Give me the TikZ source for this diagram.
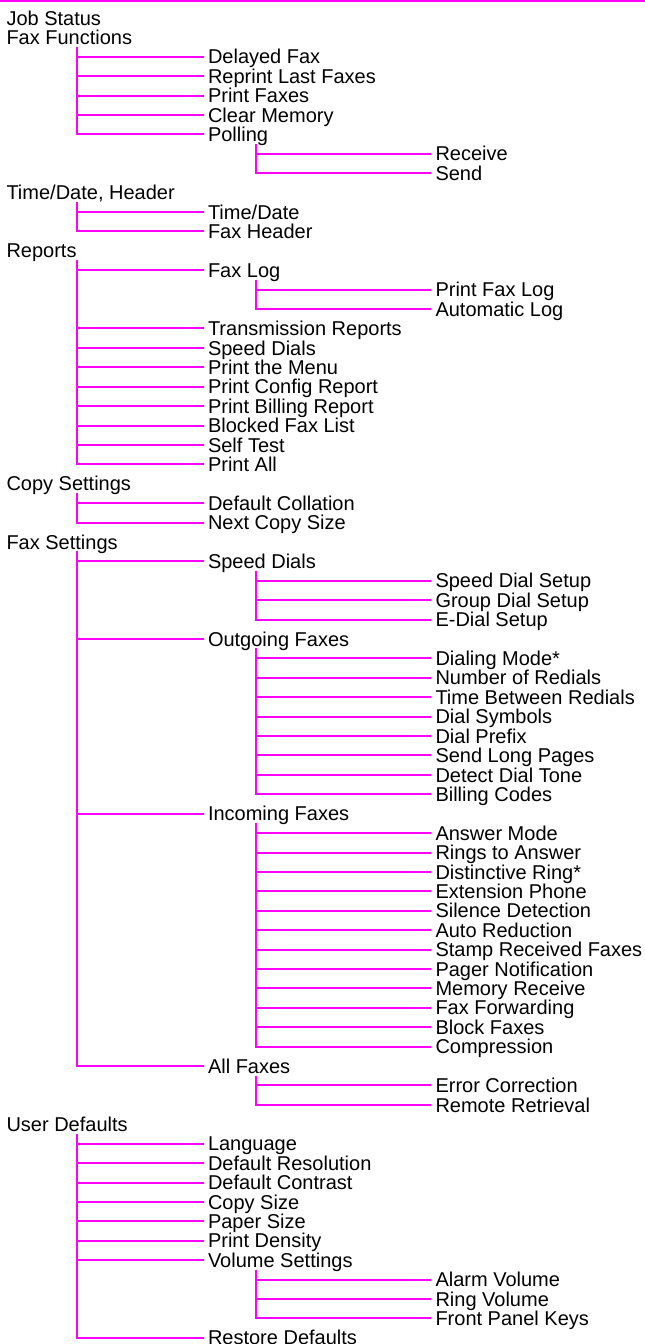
\documentclass[tikz,border=0pt]{standalone}
\usepackage{fontspec}
\setmainfont{Liberation Sans}
\definecolor{mag}{HTML}{FF00FF}
\begin{document}
\begin{tikzpicture}[x=1pt,y=-1pt,
  every node/.style={inner sep=0pt,outer sep=0pt,anchor=west,text height=14.3pt,text depth=0pt,font=\fontsize{20}{24}\selectfont},
  conn/.style={draw=mag,line width=2pt},
  topline/.style={draw=mag,line width=1.5pt}]
\useasboundingbox (0,0) rectangle (645,1344);
\draw[topline] (0,0.75) -- (645,0.75);
\coordinate (ca) at (77.3,0);
\coordinate (cb) at (255.7,0);
\def\xa{6.5}\def\xb{208}\def\xc{435.5}
\newcommand\R[4]{\node (#1) at (#2,{17.9+19.41*#3}) {#4};}
\R{n0}{\xa}{0}{Job Status}
\R{n1}{\xa}{1}{Fax Functions}
\R{n2}{\xb}{2}{Delayed Fax}
\R{n3}{\xb}{3}{Reprint Last Faxes}
\R{n4}{\xb}{4}{Print Faxes}
\R{n5}{\xb}{5}{Clear Memory}
\R{n6}{\xb}{6}{Polling}
\R{n7}{\xc}{7}{Receive}
\R{n8}{\xc}{8}{Send}
\R{n9}{\xa}{9}{Time/Date, Header}
\R{n10}{\xb}{10}{Time/Date}
\R{n11}{\xb}{11}{Fax Header}
\R{n12}{\xa}{12}{Reports}
\R{n13}{\xb}{13}{Fax Log}
\R{n14}{\xc}{14}{Print Fax Log}
\R{n15}{\xc}{15}{Automatic Log}
\R{n16}{\xb}{16}{Transmission Reports}
\R{n17}{\xb}{17}{Speed Dials}
\R{n18}{\xb}{18}{Print the Menu}
\R{n19}{\xb}{19}{Print Config Report}
\R{n20}{\xb}{20}{Print Billing Report}
\R{n21}{\xb}{21}{Blocked Fax List}
\R{n22}{\xb}{22}{Self Test}
\R{n23}{\xb}{23}{Print All}
\R{n24}{\xa}{24}{Copy Settings}
\R{n25}{\xb}{25}{Default Collation}
\R{n26}{\xb}{26}{Next Copy Size}
\R{n27}{\xa}{27}{Fax Settings}
\R{n28}{\xb}{28}{Speed Dials}
\R{n29}{\xc}{29}{Speed Dial Setup}
\R{n30}{\xc}{30}{Group Dial Setup}
\R{n31}{\xc}{31}{E-Dial Setup}
\R{n32}{\xb}{32}{Outgoing Faxes}
\R{n33}{\xc}{33}{Dialing Mode*}
\R{n34}{\xc}{34}{Number of Redials}
\R{n35}{\xc}{35}{Time Between Redials}
\R{n36}{\xc}{36}{Dial Symbols}
\R{n37}{\xc}{37}{Dial Prefix}
\R{n38}{\xc}{38}{Send Long Pages}
\R{n39}{\xc}{39}{Detect Dial Tone}
\R{n40}{\xc}{40}{Billing Codes}
\R{n41}{\xb}{41}{Incoming Faxes}
\R{n42}{\xc}{42}{Answer Mode}
\R{n43}{\xc}{43}{Rings to Answer}
\R{n44}{\xc}{44}{Distinctive Ring*}
\R{n45}{\xc}{45}{Extension Phone}
\R{n46}{\xc}{46}{Silence Detection}
\R{n47}{\xc}{47}{Auto Reduction}
\R{n48}{\xc}{48}{Stamp Received Faxes}
\R{n49}{\xc}{49}{Pager Notification}
\R{n50}{\xc}{50}{Memory Receive}
\R{n51}{\xc}{51}{Fax Forwarding}
\R{n52}{\xc}{52}{Block Faxes}
\R{n53}{\xc}{53}{Compression}
\R{n54}{\xb}{54}{All Faxes}
\R{n55}{\xc}{55}{Error Correction}
\R{n56}{\xc}{56}{Remote Retrieval}
\R{n57}{\xa}{57}{User Defaults}
\R{n58}{\xb}{58}{Language}
\R{n59}{\xb}{59}{Default Resolution}
\R{n60}{\xb}{60}{Default Contrast}
\R{n61}{\xb}{61}{Copy Size}
\R{n62}{\xb}{62}{Paper Size}
\R{n63}{\xb}{63}{Print Density}
\R{n64}{\xb}{64}{Volume Settings}
\R{n65}{\xc}{65}{Alarm Volume}
\R{n66}{\xc}{66}{Ring Volume}
\R{n67}{\xc}{67}{Front Panel Keys}
\R{n68}{\xb}{68}{Restore Defaults}
% connectors
\newcommand\Tree[4]{% #1 column, #2 parent, #3 middle children, #4 last child
  \draw[conn] ([yshift=-2.3pt]#2.south -| #1) |- ([xshift=-4.5pt]#4.west);
  \foreach \c in {#3} {\draw[conn] (#1 |- \c.west) -- ([xshift=-4.5pt]\c.west);}
}
\Tree{ca}{n1}{n2,n3,n4,n5}{n6}
\Tree{cb}{n6}{n7}{n8}
\Tree{ca}{n9}{n10}{n11}
\Tree{ca}{n12}{n13,n16,n17,n18,n19,n20,n21,n22}{n23}
\Tree{cb}{n13}{n14}{n15}
\Tree{ca}{n24}{n25}{n26}
\Tree{ca}{n27}{n28,n32,n41}{n54}
\Tree{cb}{n28}{n29,n30}{n31}
\Tree{cb}{n32}{n33,n34,n35,n36,n37,n38,n39}{n40}
\Tree{cb}{n41}{n42,n43,n44,n45,n46,n47,n48,n49,n50,n51,n52}{n53}
\Tree{cb}{n54}{n55}{n56}
\Tree{ca}{n57}{n58,n59,n60,n61,n62,n63,n64}{n68}
\Tree{cb}{n64}{n65,n66}{n67}
\end{tikzpicture}
\end{document}
